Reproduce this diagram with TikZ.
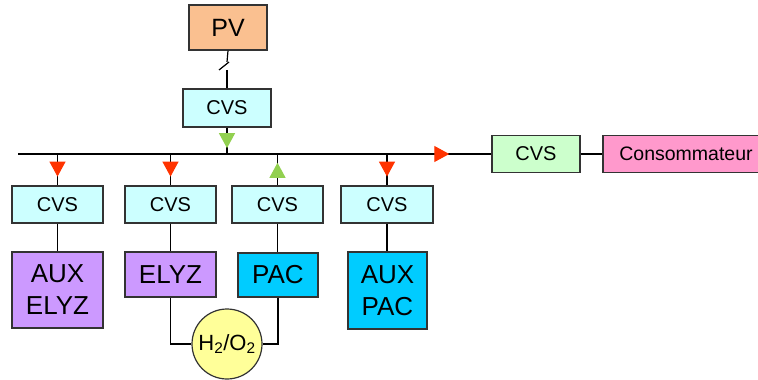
\documentclass[tikz,border=0pt]{standalone}
\usepackage{fontspec}
\setmainfont{Liberation Sans}
\usetikzlibrary{arrows.meta, positioning, decorations.markings}
\definecolor{pvorange}{HTML}{FAC090}
\definecolor{cvscyan}{HTML}{CCFFFF}
\definecolor{cvsgreen}{HTML}{CCFFCC}
\definecolor{elyzpurple}{HTML}{CC99FF}
\definecolor{paccyan}{HTML}{00CCFF}
\definecolor{gasyellow}{HTML}{FFFF99}
\definecolor{conspink}{HTML}{FF99CC}
\definecolor{flowred}{HTML}{FF3300}
\definecolor{flowgreen}{HTML}{92D050}
\definecolor{boxline}{HTML}{333333}
\def\busY{154}
\def\tipL{15pt}
\def\tipW{16pt}

\begin{document}
\begin{tikzpicture}[
    x=1pt, y=-1pt,
    line width=1.2pt,
    every node/.style={draw=boxline, inner sep=0pt, align=center},
    block/.style={minimum width=#1, font=\fontsize{26}{32}\selectfont},
    cvsbox/.style={fill=cvscyan, minimum width=#1, minimum height=37,
        font=\fontsize{20}{22}\selectfont},
    redflow/.style={postaction={decorate}, decoration={markings,
        mark=at position #1 with {\arrow{Triangle[length=\tipL,width=\tipW,color=flowred]}}}},
    greenflow/.style={postaction={decorate}, decoration={markings,
        mark=at position #1 with {\arrow{Triangle[length=\tipL,width=\tipW,color=flowgreen]}}}}
]
\useasboundingbox (0,0) rectangle (758,380);

% source
\node[block=78, minimum height=45, fill=pvorange, font=\fontsize{25}{28}\selectfont] (pv) at (228,27.5) {PV};
\node[cvsbox=88, minimum height=38] (cvsT) at (227,108) {CVS};
\coordinate (swA) at (227,62);
\coordinate (swB) at (227,70);

% bus and load side
\coordinate (bus) at (18,\busY);
\node[cvsbox=88, fill=cvsgreen] (cvsout) at (536,\busY) {CVS};
\node[cvsbox=166, fill=conspink, font=\fontsize{19.5}{22}\selectfont] (cons) at (686,\busY) {Consommateur};

% branches
\node[cvsbox=91] (cvs1) at (57.5,204.5) {CVS};
\node[cvsbox=91] (cvs2) at (170.5,204.5) {CVS};
\node[cvsbox=91] (cvs3) at (277.5,204.5) {CVS};
\node[cvsbox=92] (cvs4) at (387,204.5) {CVS};
\node[block=91, minimum height=76, fill=elyzpurple] (auxelyz) at (57.5,290) {AUX\\ELYZ};
\node[block=91, minimum height=45, fill=elyzpurple] (elyz) at (170.5,274.5) {ELYZ};
\node[block=80, minimum height=44, fill=paccyan] (pac) at (278,275) {PAC};
\node[block=79, minimum height=77, fill=paccyan] (auxpac) at (387.5,290.5) {AUX\\PAC};
\node[circle, minimum size=70, fill=gasyellow, font=\fontsize{22}{24}\selectfont] (gas) at (227,344) {H\textsubscript{2}/O\textsubscript{2}};

% connectors
\draw (pv.south) -- (swA);
\draw (swB) -- (cvsT.north);
\draw ([xshift=-8]swB) -- ([xshift=2]swA);
\draw[greenflow=0.78] (cvsT.south) -- (cvsT.south |- bus);
\draw[redflow=0.911] (bus) -- (cvsout.west);
\draw (cvsout.east) -- (cons.west);
\draw[redflow=0.72] (cvs1.north |- bus) -- (cvs1.north);
\draw[redflow=0.72] (cvs2.north |- bus) -- (cvs2.north);
\draw[greenflow=0.72] (cvs3.north) -- (cvs3.north |- bus);
\draw[redflow=0.72] (cvs4.north |- bus) -- (cvs4.north);
\draw (cvs1) -- (auxelyz);
\draw (cvs2) -- (elyz);
\draw (cvs3.south) -- (cvs3.south |- pac.north);
\draw (cvs4.south) -- (cvs4.south |- auxpac.north);
\draw (elyz.south) |- (gas.west);
\draw (pac.south) |- (gas.east);
\end{tikzpicture}
\end{document}
